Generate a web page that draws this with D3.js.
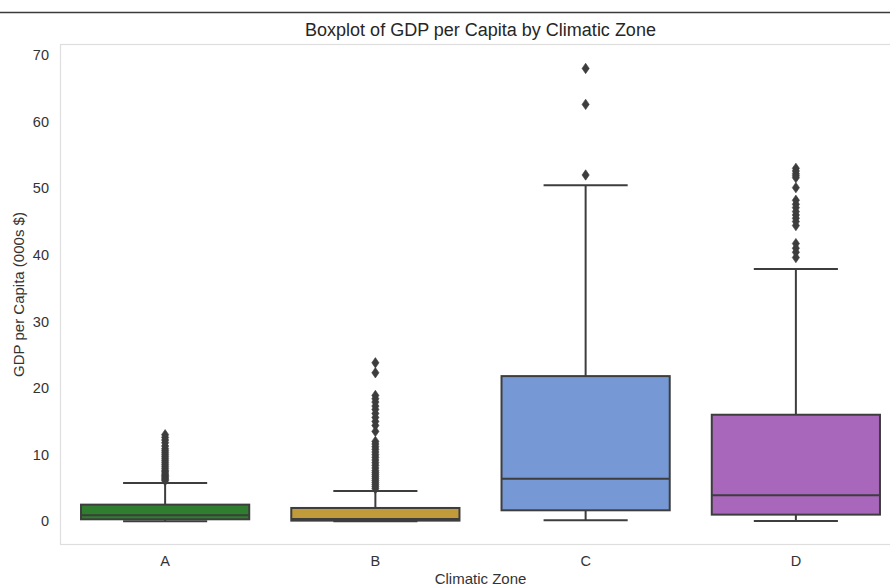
<!DOCTYPE html>
<html>
<head>
<meta charset="utf-8">
<script src="https://cdn.jsdelivr.net/npm/d3@7"></script>
<style>
  html, body { margin: 0; padding: 0; background: #ffffff; }
  svg { display: block; font-family: "Liberation Sans", Arial, sans-serif; }
</style>
</head>
<body>
<svg id="chart" width="890" height="586"></svg>
<script>
// Climatic zones on the x axis
const zones = ["A", "B", "C", "D"];

// Five-number summaries per zone (GDP per capita, thousands of $)
const whiskerLow  = [0.0, 0.0, 0.15, 0.05];
const q1          = [0.3, 0.1, 1.65, 1.0];
const median      = [0.9, 0.35, 6.4, 3.9];
const q3          = [2.5, 2.0, 21.8, 16.0];
const whiskerHigh = [5.75, 4.55, 50.45, 37.9];

// Outlying countries per zone
const outliersA = [13.0, 12.6, 12.2, 11.8, 11.3, 10.9, 10.6, 10.3, 10.0, 9.7, 9.4, 9.1,
                   8.8, 8.5, 8.2, 7.9, 7.6, 7.4, 7.1, 6.9, 6.7, 6.5, 6.3, 6.1];
const outliersB = [23.8, 22.3, 18.9, 18.4, 17.9, 17.3, 16.8, 16.2, 15.6, 15.0, 14.4, 13.5,
                   12.0, 11.6, 11.2, 10.8, 10.4, 10.0, 9.6, 9.2, 8.8, 8.4, 8.0, 7.6, 7.3,
                   7.0, 6.7, 6.4, 6.1, 5.8, 5.5, 5.2, 4.9];
const outliersC = [68.0, 62.6, 52.0];
const outliersD = [53.0, 52.6, 52.2, 51.9, 51.6, 50.1, 48.2, 47.6, 47.1, 46.5, 46.0, 45.5,
                   45.0, 44.4, 41.7, 41.0, 40.4, 39.6];
const outliers = [outliersA, outliersB, outliersC, outliersD];

// Fill colours per zone
const fills = ["#2f7e2f", "#c19b3a", "#7699d6", "#a867ba"];

// Axis ticks and labels
const yTicks = [0, 10, 20, 30, 40, 50, 60, 70];
const titleText = "Boxplot of GDP per Capita by Climatic Zone";
const xLabel = "Climatic Zone";
const yLabel = "GDP per Capita (000s $)";

const svg = d3.select("#chart");
const plot = { left: 60, right: 901, top: 44, bottom: 545 };
const lineColor = "#3d3d3d";
const textColor = "#333";

// Rule across the top of the page
svg.append("line")
  .attr("x1", 0).attr("x2", 890).attr("y1", 12.5).attr("y2", 12.5)
  .attr("stroke", "#3a3a3a").attr("stroke-width", 1.3);

const x = d3.scaleBand().domain(zones).range([plot.left, plot.right]).padding(0);
const y = d3.scaleLinear().domain([-3.56, 71.67]).range([plot.bottom, plot.top]);

// Frame
svg.append("rect")
  .attr("x", plot.left + 0.5).attr("y", plot.top + 0.5)
  .attr("width", plot.right - plot.left - 1).attr("height", plot.bottom - plot.top - 1)
  .attr("fill", "none").attr("stroke", "#dedede").attr("stroke-width", 1.2);

// Y axis labels (no tick marks, no domain line)
const yAxis = d3.axisLeft(y).tickValues(yTicks).tickSize(0).tickPadding(11).tickFormat(d3.format("d"));
const yg = svg.append("g").attr("transform", `translate(${plot.left},0)`).call(yAxis);
yg.select(".domain").remove();
yg.selectAll("text").attr("font-size", 14.5).attr("fill", textColor)
  .attr("font-family", "Liberation Sans, Arial, sans-serif");

// X axis labels
const xAxis = d3.axisBottom(x).tickSize(0).tickPadding(11);
const xg = svg.append("g").attr("transform", `translate(0,${plot.bottom})`).call(xAxis);
xg.select(".domain").remove();
xg.selectAll("text").attr("font-size", 14.5).attr("fill", textColor)
  .attr("font-family", "Liberation Sans, Arial, sans-serif");

// Title and axis titles
svg.append("text")
  .attr("x", (plot.left + plot.right) / 2).attr("y", 36)
  .attr("text-anchor", "middle").attr("font-size", 18).attr("fill", "#262626")
  .text(titleText);
svg.append("text")
  .attr("x", (plot.left + plot.right) / 2).attr("y", 584)
  .attr("text-anchor", "middle").attr("font-size", 15).attr("fill", textColor)
  .text(xLabel);
svg.append("text")
  .attr("transform", `translate(24,${(plot.top + plot.bottom) / 2}) rotate(-90)`)
  .attr("text-anchor", "middle").attr("font-size", 15).attr("fill", textColor)
  .text(yLabel);

// Boxes
const boxW = x.bandwidth() * 0.8;
const capW = boxW / 2;
const stats = zones.map((z, i) => ({
  zone: z, lo: whiskerLow[i], q1: q1[i], med: median[i], q3: q3[i], hi: whiskerHigh[i],
  fill: fills[i], out: outliers[i]
}));

const g = svg.append("g");
stats.forEach(s => {
  const cx = x(s.zone) + x.bandwidth() / 2;
  const grp = g.append("g");
  // whiskers
  grp.append("line").attr("x1", cx).attr("x2", cx).attr("y1", y(s.q3)).attr("y2", y(s.hi))
    .attr("stroke", lineColor).attr("stroke-width", 2);
  grp.append("line").attr("x1", cx).attr("x2", cx).attr("y1", y(s.q1)).attr("y2", y(s.lo))
    .attr("stroke", lineColor).attr("stroke-width", 2);
  // caps
  [s.hi, s.lo].forEach(v => {
    grp.append("line").attr("x1", cx - capW / 2).attr("x2", cx + capW / 2)
      .attr("y1", y(v)).attr("y2", y(v))
      .attr("stroke", lineColor).attr("stroke-width", 2);
  });
  // box
  grp.append("rect")
    .attr("x", cx - boxW / 2).attr("y", y(s.q3))
    .attr("width", boxW).attr("height", y(s.q1) - y(s.q3))
    .attr("fill", s.fill).attr("stroke", lineColor).attr("stroke-width", 2);
  // median
  grp.append("line").attr("x1", cx - boxW / 2).attr("x2", cx + boxW / 2)
    .attr("y1", y(s.med)).attr("y2", y(s.med))
    .attr("stroke", lineColor).attr("stroke-width", 2);
  // outliers as thin diamonds
  grp.selectAll("path.flier").data(s.out).join("path")
    .attr("class", "flier")
    .attr("d", d => {
      const py = y(d), hw = 3.6, hh = 5.2;
      return `M${cx},${py - hh}L${cx + hw},${py}L${cx},${py + hh}L${cx - hw},${py}Z`;
    })
    .attr("fill", lineColor).attr("stroke", lineColor).attr("stroke-width", 0.6);
});
</script>
</body>
</html>
